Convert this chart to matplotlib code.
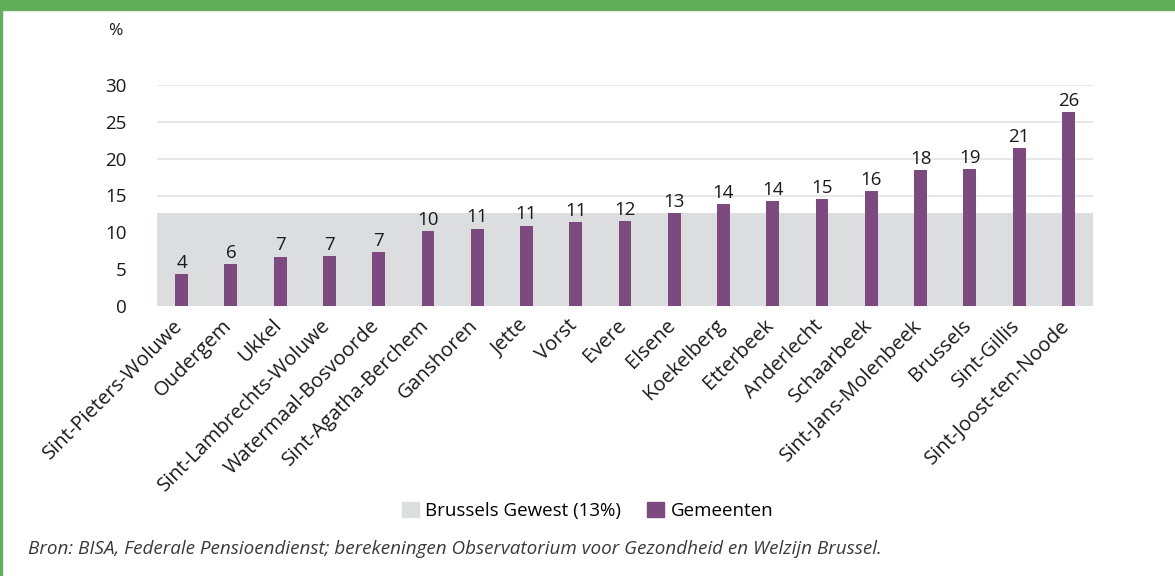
import numpy as np
import matplotlib.pyplot as plt
import matplotlib.transforms as mtransforms
from matplotlib.patches import Patch

plt.rcParams['font.family'] = ['Open Sans', 'DejaVu Sans']

# data
gemeenten = ['Sint-Pieters-Woluwe', 'Oudergem', 'Ukkel', 'Sint-Lambrechts-Woluwe',
             'Watermaal-Bosvoorde', 'Sint-Agatha-Berchem', 'Ganshoren', 'Jette', 'Vorst',
             'Evere', 'Elsene', 'Koekelberg', 'Etterbeek', 'Anderlecht', 'Schaarbeek',
             'Sint-Jans-Molenbeek', 'Brussels', 'Sint-Gillis', 'Sint-Joost-ten-Noode']
waarden = [4.3, 5.7, 6.7, 6.8, 7.3, 10.2, 10.5, 10.9, 11.4, 11.5, 12.6, 13.8, 14.2,
           14.5, 15.6, 18.5, 18.55, 21.4, 26.3]
labels = ['4', '6', '7', '7', '7', '10', '11', '11', '11', '12', '13', '14', '14',
          '15', '16', '18', '19', '21', '26']
gewest = 12.6
yticks = [0, 5, 10, 15, 20, 25, 30]

paars = '#7d4a80'
grijs = '#dcdddf'
groen = '#63ae5b'
tekst = '#1a1a1a'

fig = plt.figure(figsize=(11.75, 5.76), dpi=100)
ax = fig.add_axes([157/1175, 1 - 306/576, 936/1175, 221/576])

x = np.arange(len(gemeenten))

# grey band = regional average
ax.bar(x.mean(), gewest, width=len(gemeenten), color=grijs, zorder=1)
ax.bar(x, waarden, width=0.26, color=paars, zorder=3)

for xi, v, l in zip(x, waarden, labels):
    ax.text(xi, v + 0.3, l, ha='center', va='bottom', fontsize=13.5, color=tekst, zorder=4)

ax.set_xlim(-0.5, len(gemeenten) - 0.5)
ax.set_ylim(0, 30)
ax.set_yticks(yticks)
ax.yaxis.grid(True, color='#e4e4e4', linewidth=1.2, zorder=0)
ax.set_axisbelow(True)
for s in ax.spines.values():
    s.set_visible(False)
ax.tick_params(axis='y', length=0, pad=22, labelsize=13.5, labelcolor=tekst)
ax.tick_params(axis='x', length=0, pad=7)
ax.set_xticks(x)
ax.set_xticklabels(gemeenten, rotation=45, ha='right', rotation_mode='anchor',
                   fontsize=14.5, color=tekst)
# shift rotated labels a bit to the left so they end under the bar
shift = mtransforms.ScaledTranslation(-9/100, 0, fig.dpi_scale_trans)
for t in ax.get_xticklabels():
    t.set_transform(t.get_transform() + shift)

fig.text(115/1175, 1 - 31/576, '%', ha='center', va='center', fontsize=12.5, color=tekst)

handles = [Patch(color=grijs, label='Brussels Gewest (13%)'),
           Patch(color=paars, label='Gemeenten')]
fig.legend(handles=handles, loc='center', bbox_to_anchor=(0.5, 1 - 511/576), ncol=2,
           frameon=False, fontsize=13.5, handlelength=0.9, handleheight=0.9,
           handletextpad=0.35, columnspacing=1.4)

fig.text(28/1175, 1 - 549/576,
         'Bron: BISA, Federale Pensioendienst; berekeningen Observatorium voor Gezondheid en Welzijn Brussel.',
         ha='left', va='center', fontsize=13.6, style='italic', color='#3a3a3a')

# green frame of the figure box
fig.patches.append(plt.Rectangle((0, 1 - 10/576), 1, 10/576, transform=fig.transFigure,
                                 color=groen, zorder=0))
fig.patches.append(plt.Rectangle((0, 0), 2/1175, 1, transform=fig.transFigure,
                                 color=groen, zorder=0))

fig.savefig('out.png', dpi=100)
